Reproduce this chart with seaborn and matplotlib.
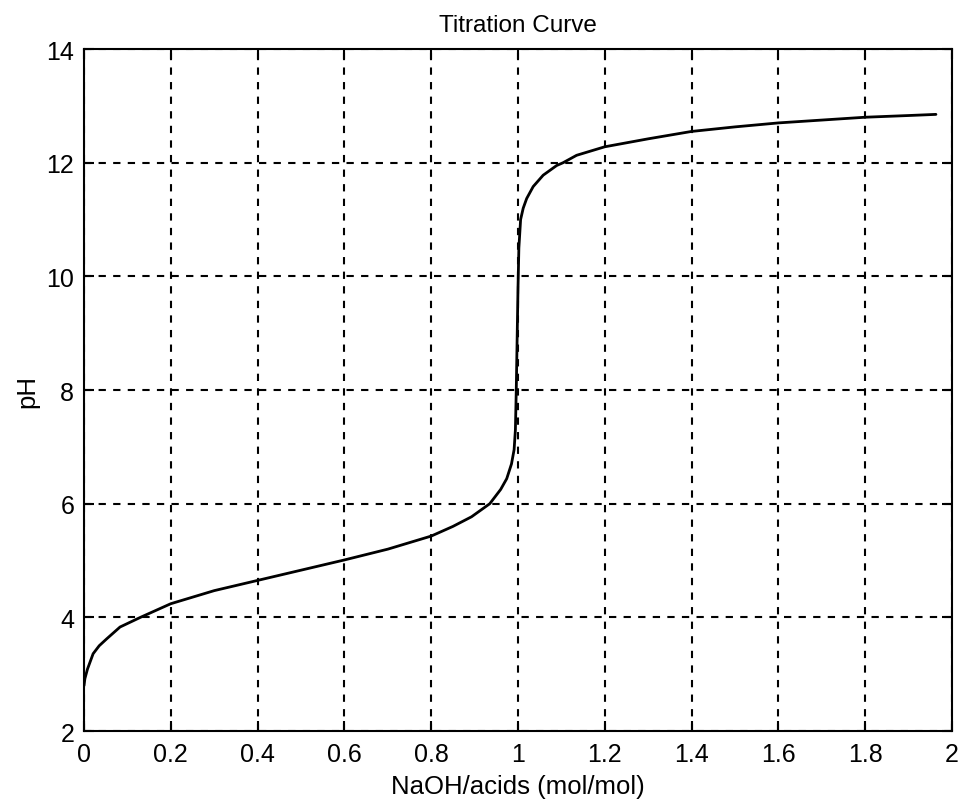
import matplotlib
matplotlib.use("Agg")
import matplotlib.pyplot as plt
import seaborn as sns
import pandas as pd

# Data
ratio = [0, 0.002, 0.008, 0.021, 0.035, 0.052, 0.083, 0.13, 0.2, 0.3, 0.4, 0.5, 0.6, 0.7,
         0.8, 0.85, 0.893, 0.935, 0.96, 0.974, 0.985, 0.991, 0.994, 0.996, 0.998, 1.0,
         1.002, 1.006, 1.012, 1.02, 1.035, 1.058, 1.089, 1.104, 1.135, 1.2, 1.3, 1.4,
         1.5, 1.6, 1.7, 1.8, 1.9, 1.963]
ph = [2.8, 2.92, 3.09, 3.36, 3.5, 3.62, 3.83, 4.0, 4.24, 4.47, 4.65, 4.83, 5.01, 5.2,
      5.43, 5.6, 5.77, 6.0, 6.25, 6.44, 6.7, 6.95, 7.3, 8.0, 8.9, 9.8,
      10.5, 11.0, 11.2, 11.37, 11.58, 11.78, 11.95, 12.0, 12.13, 12.28, 12.42, 12.55,
      12.63, 12.70, 12.75, 12.80, 12.83, 12.85]
x_ticks = [0, 0.2, 0.4, 0.6, 0.8, 1, 1.2, 1.4, 1.6, 1.8, 2]
x_tick_labels = ["0", "0.2", "0.4", "0.6", "0.8", "1", "1.2", "1.4", "1.6", "1.8", "2"]
y_ticks = [2, 4, 6, 8, 10, 12, 14]

df = pd.DataFrame({"ratio": ratio, "pH": ph})

sns.set_style("white")
plt.rcParams["font.family"] = ["Liberation Sans", "DejaVu Sans"]
plt.rcParams["text.color"] = "black"
plt.rcParams["axes.labelcolor"] = "black"

fig = plt.figure(figsize=(9.59, 8.03), dpi=100)
ax = fig.add_axes([0.0876, 0.0884, 0.9051, 0.8493])

sns.lineplot(data=df, x="ratio", y="pH", ax=ax, color="black", linewidth=2.0,
             sort=False, estimator=None)

ax.set_xlim(0, 2)
ax.set_ylim(2, 14)
ax.set_xticks(x_ticks)
ax.set_xticklabels(x_tick_labels)
ax.set_yticks(y_ticks)
ax.grid(True, color="black", linestyle=(0, (3.5, 3.5)), linewidth=1.5)
for s in ax.spines.values():
    s.set_color("black")
    s.set_linewidth(1.5)
    s.set_visible(True)
ax.tick_params(direction="in", length=7, width=1.5, labelsize=18, colors="black",
               top=True, right=True, bottom=True, left=True)
ax.tick_params(axis="x", pad=8)
ax.tick_params(axis="y", pad=7)
ax.set_xlabel("NaOH/acids (mol/mol)", fontsize=18.5, labelpad=6, color="black")
ax.set_ylabel("pH", fontsize=18.5, labelpad=5, color="black")
ax.set_title("Titration Curve", fontsize=17.5, pad=13, color="black")

fig.savefig("out.png", dpi=100, facecolor="white")
